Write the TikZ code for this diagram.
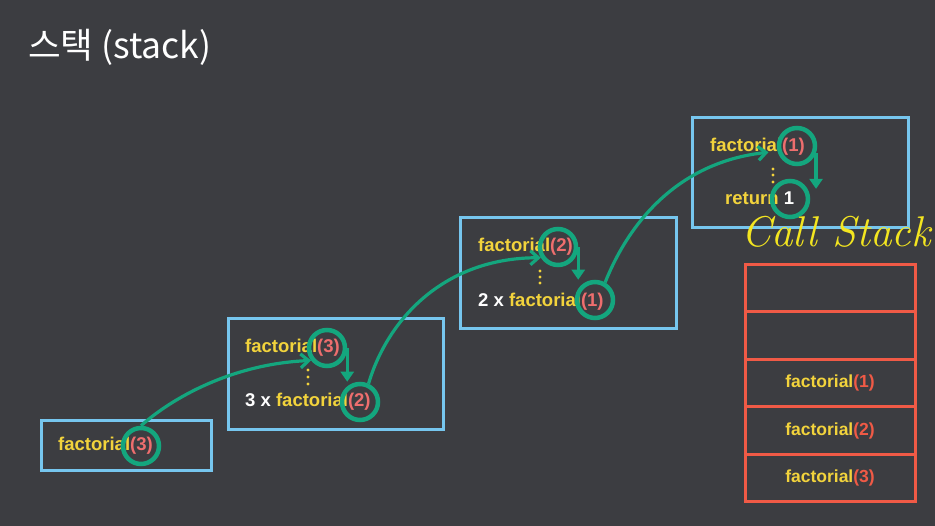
\documentclass[tikz,border=0pt]{standalone}
\usepackage{fontspec}
\setmainfont{Liberation Sans}
\newfontfamily\kr{Noto Sans CJK KR}
\newfontfamily\handfont{Latin Modern Roman}
\usetikzlibrary{arrows.meta}
\definecolor{bg}{HTML}{3C3D41}
\definecolor{boxblue}{HTML}{76C6EE}
\definecolor{fyel}{HTML}{F2D33C}
\definecolor{fred}{HTML}{EE6E6E}
\definecolor{sred}{HTML}{F05A46}
\definecolor{cgreen}{HTML}{14A67E}
\definecolor{handcol}{HTML}{F3E520}
\tikzset{
  fbox/.style={draw=boxblue, line width=3pt, rectangle, inner sep=0pt},
  sbox/.style={draw=sred, line width=3pt, rectangle, inner sep=0pt, minimum width=170pt, minimum height=47.5pt, font=\bfseries\fontsize{17.5}{20}\selectfont},
  txt/.style={anchor=base west, inner sep=0pt, font=\bfseries\fontsize{18.5}{20}\selectfont},
  ring/.style={circle, draw=cgreen, line width=4.5pt, minimum size=36pt, inner sep=0pt},
  garrow/.style={draw=cgreen, line width=3.2pt, -{Straight Barb[length=8pt,width=14pt]}},
  varrow/.style={draw=cgreen, line width=3.2pt, -{Triangle[length=10pt,width=13pt]}},
  vdot/.style={circle, fill=fyel, inner sep=0pt, minimum size=3.4pt},
}
\begin{document}
\begin{tikzpicture}[x=1pt,y=-1pt]
\fill[bg] (0,0) rectangle (935,526);
\useasboundingbox (0,0) rectangle (935,526);

\node[anchor=base west, inner sep=0pt, text=white, font=\kr\fontsize{35.5}{40}\selectfont] (title) at (28,59) {스택 (stack)};

% frames
\node[fbox, minimum width=170pt, minimum height=50pt] (b1) at (126,446) {};
\node[fbox, minimum width=215pt, minimum height=111pt] (b2) at (335.5,374.5) {};
\node[fbox, minimum width=216pt, minimum height=111pt] (b3) at (568,273.5) {};
\node[fbox, minimum width=216pt, minimum height=110pt] (b4) at (800,173) {};

% texts
\node[txt] (t1) at (58,451) {\color{fyel}factorial\color{fred}(3)};
\node[txt] (t2) at (245,353) {\color{fyel}factorial\color{fred}(3)};
\node[txt] (t3) at (245,407) {\color{white}3 x \color{fyel}factorial\color{fred}(2)};
\node[txt] (t4) at (478,252) {\color{fyel}factorial\color{fred}(2)};
\node[txt] (t5) at (478,307) {\color{white}2 x \color{fyel}factorial\color{fred}(1)};
\node[txt] (t6) at (710,152) {\color{fyel}factorial\color{fred}(1)};
\node[txt] (t7) at (725,205) {\color{fyel}return \color{white}1};

% dots
\foreach \i/\x/\y in {a/308/370, b/308/377, c/308/384, d/540/271, e/540/277, f/540/283, g/773/169, h/773/175, k/773/182}
  \node[vdot] (d\i) at (\x,\y) {};

% rings
\node[ring] (c1) at (141,446) {};
\node[ring] (c2) at (327,348) {};
\node[ring] (c3) at (360,402) {};
\node[ring] (c4) at (558,247) {};
\node[ring] (c5) at (595,300) {};
\node[ring] (c6) at (797,146) {};
\node[ring] (c7) at (790,199) {};

% vertical arrows
\draw[varrow] (c2.east) -- (c2.east |- c3.north);
\draw[varrow] (c4.east) -- (c4.east |- c5.north);
\draw[varrow] (c6.-20) -- (c6.-20 |- c7.30);

% curved arrows
\draw[garrow] (c1.north) .. controls (172,398) and (232,364) .. (c2.218);
\draw[garrow] (c3.65) .. controls (388,318) and (445,258) .. (c4.212);
\draw[garrow, shorten >=9pt] (c5.60) .. controls (630,220) and (680,162) .. (c6.195);

% handwritten label
\node[anchor=base west, inner sep=0pt, text=handcol, font=\handfont\itshape\fontsize{43}{48}\selectfont] (cs) at (741,247) {Call Stack};

% call stack
\node[sbox] (s5) at (830,288) {};
\node[sbox] (s4) at (830,335.5) {};
\node[sbox] (s3) at (830,383) {\color{fyel}factorial\color{sred}(1)};
\node[sbox] (s2) at (830,430.5) {\color{fyel}factorial\color{sred}(2)};
\node[sbox] (s1) at (830,478) {\color{fyel}factorial\color{sred}(3)};
\end{tikzpicture}
\end{document}
